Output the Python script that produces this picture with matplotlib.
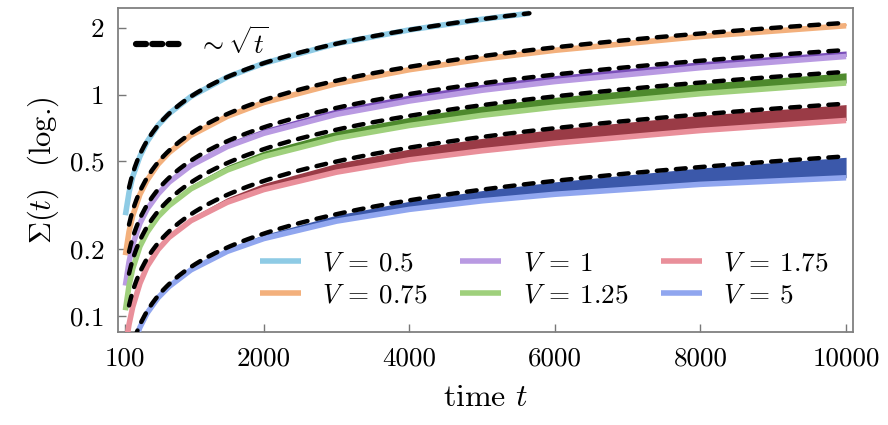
import numpy as np
import matplotlib
matplotlib.use("Agg")
import matplotlib.pyplot as plt
from matplotlib.lines import Line2D

plt.rcParams['font.family'] = ['cmr10', 'DejaVu Serif']
plt.rcParams['mathtext.fontset'] = 'cm'
plt.rcParams['axes.formatter.use_mathtext'] = True

# sample times of the data curves
t_data = [100, 150, 200, 300, 400, 550, 700, 1000, 1500, 2000, 3000, 4000, 5000, 6000, 8000, 10000]
t_sky = [100, 150, 200, 300, 400, 550, 700, 1000, 1500, 2000, 3000, 4000, 5000, 5650]

labels = [r'$V\:=\:0.5$', r'$V\:=\:0.75$', r'$V\:=\:1$', r'$V\:=\:1.25$', r'$V\:=\:1.75$', r'$V\:=\:5$']

# lower edge (light line) and upper edge (dark band) of each data curve
low_05 = [0.285, 0.361, 0.425, 0.526, 0.614, 0.727, 0.820, 0.980, 1.20, 1.385, 1.70, 1.96, 2.19, 2.33]
up_05 = low_05

low_075 = [0.188, 0.240, 0.283, 0.354, 0.411, 0.485, 0.547, 0.654, 0.797, 0.920, 1.121, 1.295, 1.447, 1.585, 1.830, 2.047]
up_075 = [0.188, 0.240, 0.283, 0.356, 0.415, 0.490, 0.553, 0.662, 0.810, 0.937, 1.148, 1.326, 1.482, 1.624, 1.877, 2.100]

low_1 = [0.137, 0.175, 0.209, 0.262, 0.304, 0.356, 0.402, 0.478, 0.582, 0.668, 0.814, 0.935, 1.046, 1.145, 1.323, 1.487]
up_1 = [0.137, 0.175, 0.209, 0.263, 0.307, 0.362, 0.410, 0.493, 0.607, 0.700, 0.862, 0.996, 1.113, 1.219, 1.408, 1.574]

low_125 = [0.106, 0.137, 0.163, 0.206, 0.239, 0.281, 0.315, 0.375, 0.456, 0.524, 0.635, 0.725, 0.806, 0.878, 1.009, 1.128]
up_125 = [0.106, 0.137, 0.163, 0.207, 0.242, 0.285, 0.323, 0.389, 0.478, 0.555, 0.683, 0.789, 0.887, 0.972, 1.122, 1.254]

low_175 = [0.073, 0.0914, 0.1094, 0.1403, 0.1674, 0.1995, 0.2264, 0.2691, 0.326, 0.372, 0.446, 0.507, 0.557, 0.603, 0.688, 0.764]
up_175 = [0.073, 0.0914, 0.1094, 0.1403, 0.1684, 0.2017, 0.230, 0.2777, 0.3418, 0.3967, 0.4884, 0.567, 0.6338, 0.6979, 0.8058, 0.901]

low_5 = [0.051, 0.0625, 0.0722, 0.0888, 0.1031, 0.1209, 0.1357, 0.1613, 0.1956, 0.2234, 0.2679, 0.3028, 0.331, 0.3544, 0.3929, 0.4208]
up_5 = [0.051, 0.0625, 0.0722, 0.0888, 0.1031, 0.1215, 0.1371, 0.1638, 0.2017, 0.2328, 0.2852, 0.3294, 0.3682, 0.4033, 0.4658, 0.5207]

# amplitudes of the ~sqrt(t) guide lines
fit_amp = [0.031, 0.0211, 0.0159, 0.01267, 0.0091, 0.00526]
fit_tmax = [5650, 10000, 10000, 10000, 10000, 10000]

light = ['#8ecbe5', '#f3b07c', '#b99ae2', '#9fd07c', '#e98f9a', '#90a6ef']
dark = ['#8ecbe5', '#e3965a', '#7a4fb9', '#4e8a2d', '#9a3b46', '#3b58aa']

lows = [low_05, low_075, low_1, low_125, low_175, low_5]
ups = [up_05, up_075, up_1, up_125, up_175, up_5]
times = [t_sky, t_data, t_data, t_data, t_data, t_data]

fig = plt.figure(figsize=(8.88, 4.25), dpi=100)
ax = fig.add_axes([0.133, 0.219, 0.828, 0.762])

handles = []
for i in range(6):
    ax.fill_between(times[i], lows[i], ups[i], color=dark[i], lw=0, zorder=2)
    h, = ax.plot(times[i], lows[i], color=light[i], lw=4, solid_capstyle='butt', zorder=3)
    handles.append(h)

for i in range(6):
    tt = np.linspace(150, fit_tmax[i], 400)
    ax.plot(tt, fit_amp[i] * np.sqrt(tt), color='black', lw=3.2, ls=(0, (2.2, 2.1)),
            dash_capstyle='round', zorder=4)

ax.set_yscale('log')
ax.set_xlim(0, 10100)
ax.set_ylim(0.0846, 2.46)
ax.set_xticks([100, 2000, 4000, 6000, 8000, 10000])
ax.set_xticklabels(['100', '2000', '4000', '6000', '8000', '10000'])
ax.set_yticks([0.1, 0.2, 0.5, 1, 2])
ax.set_yticklabels(['0.1', '0.2', '0.5', '1', '2'])
ax.yaxis.set_minor_locator(matplotlib.ticker.NullLocator())
ax.tick_params(direction='in', length=6, width=1, color='#777777', labelsize=19.5)
ax.tick_params(axis='x', pad=11)
ax.tick_params(axis='y', pad=10)
for s in ax.spines.values():
    s.set_color('#808080')
    s.set_linewidth(1.3)

ax.set_xlabel('time $t$', fontsize=23, labelpad=10)
ax.set_ylabel(r'$\Sigma(t)$  (log.)', fontsize=22, labelpad=6)

leg = ax.legend(handles, labels, ncol=3, loc='lower right', frameon=False, fontsize=19.5,
                handlelength=1.5, handletextpad=0.8, columnspacing=1.2, labelspacing=0.3,
                bbox_to_anchor=(1.0, 0.0))
ax.add_artist(leg)
fit_h = Line2D([], [], color='black', lw=4.5, ls=(0, (1.6, 1.0)), dash_capstyle='round')
ax.legend([fit_h], [r'$\sim\sqrt{t}$'], loc='upper left', frameon=False, fontsize=19.5,
          handlelength=1.6, handletextpad=0.7, borderaxespad=0.25)

fig.savefig('out.png', dpi=100)
